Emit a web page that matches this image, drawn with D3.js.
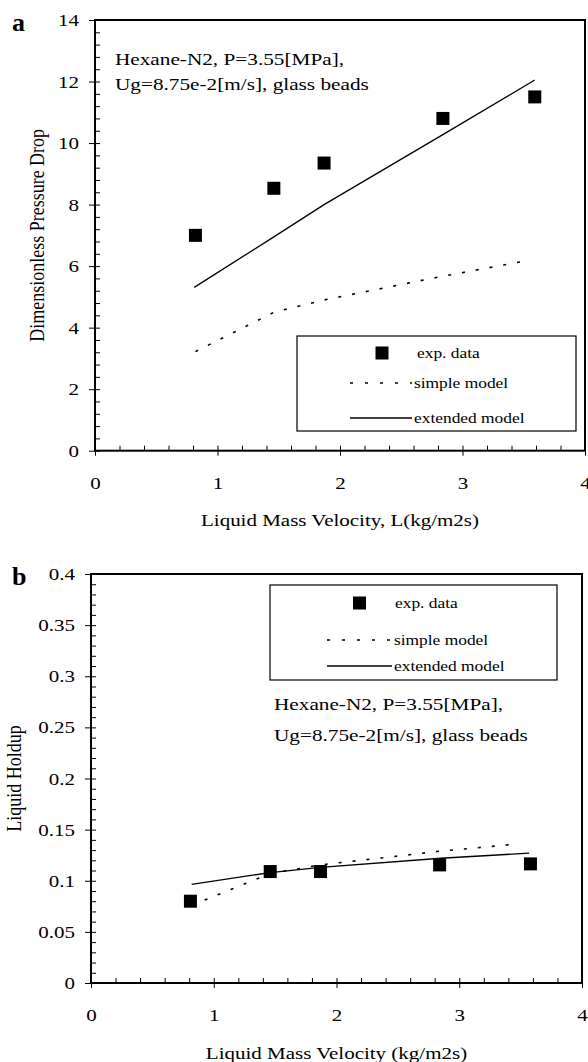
<!DOCTYPE html>
<html>
<head>
<meta charset="utf-8">
<script src="https://cdn.jsdelivr.net/npm/d3@7"></script>
<style>
  body { margin: 0; background: #fff; }
  svg { display: block; }
  svg text { font-family: "Liberation Serif", "Times New Roman", serif; }
</style>
</head>
<body>
<div id="chart"></div>
<script>
// valores
var xTicks = [0, 1, 2, 3, 4];

// panel a: caida de presion adimensional
var dropTicks = [0, 2, 4, 6, 8, 10, 12, 14];
var dropExpX = [0.82, 1.46, 1.87, 2.84, 3.59];
var dropExp = [7.0, 8.53, 9.35, 10.8, 11.5];
var dropSimpleX = [0.82, 1.46, 1.87, 2.85, 3.49];
var dropSimple = [3.22, 4.5, 4.9, 5.68, 6.15];
var dropExtX = [0.81, 1.46, 1.87, 2.85, 3.59];
var dropExt = [5.31, 6.95, 8.0, 10.3, 12.05];

// panel b: holdup liquido
var holdTicks = [0, 0.05, 0.1, 0.15, 0.2, 0.25, 0.3, 0.35, 0.4];
var holdTickLabels = ["0", "0.05", "0.1", "0.15", "0.2", "0.25", "0.3", "0.35", "0.4"];
var holdExpX = [0.81, 1.46, 1.87, 2.84, 3.58];
var holdExp = [0.080, 0.109, 0.109, 0.1155, 0.1165];
var holdSimpleX = [0.82, 1.46, 1.87, 2.85, 3.48];
var holdSimple = [0.076, 0.107, 0.1155, 0.129, 0.136];
var holdExtX = [0.82, 1.46, 1.87, 2.85, 3.57];
var holdExt = [0.0965, 0.108, 0.113, 0.122, 0.127];

var legendLabels = ["exp. data", "simple model", "extended model"];
var noteLines = ["Hexane-N2, P=3.55[MPa],", "Ug=8.75e-2[m/s], glass beads"];

var SX = 1.2; // el escaneo esta estirado en horizontal
var SERIF = "Liberation Serif, Times New Roman, serif";

var svg = d3.select("#chart")
    .append("svg")
    .attr("width", 588)
    .attr("height", 1062);

function stretch(sel, origin) {
    sel.style("transform-box", "fill-box")
        .style("transform-origin", origin + " center")
        .style("transform", "scaleX(" + SX + ")");
}

function pts(xs, ys) {
    return xs.map(function(x, i) { return [x, ys[i]]; });
}

function panel(p) {
    var x = d3.scaleLinear().domain([0, 4]).range([p.left, p.right]);
    var y = d3.scaleLinear().domain([0, p.ymax]).range([p.bottom, p.top]);
    var g = svg.append("g");

    // ticks menores hacia dentro
    g.append("g")
        .attr("transform", "translate(" + p.left + ",0)")
        .call(d3.axisRight(y).tickValues(p.minorY).tickSize(5).tickFormat(""))
        .call(function(a) { a.select(".domain").remove(); });
    g.append("g")
        .attr("transform", "translate(0," + p.bottom + ")")
        .call(d3.axisTop(x).tickValues(d3.range(0, 4.01, 0.2)).tickSize(5).tickFormat(""))
        .call(function(a) { a.select(".domain").remove(); });

    // ticks mayores con etiquetas
    var ya = g.append("g")
        .attr("transform", "translate(" + p.left + ",0)")
        .call(d3.axisLeft(y).tickValues(p.yTicks).tickSize(6).tickPadding(10)
            .tickFormat(function(d, i) { return p.yLabels ? p.yLabels[i] : d; }));
    ya.select(".domain").remove();
    ya.attr("font-family", SERIF);
    ya.selectAll("text").attr("font-family", SERIF).attr("font-size", 17.5).call(stretch, "right");

    var xa = g.append("g")
        .attr("transform", "translate(0," + p.bottom + ")")
        .call(d3.axisBottom(x).tickValues(xTicks).tickSize(5).tickPadding(21)
            .tickFormat(d3.format("d")));
    xa.select(".domain").remove();
    xa.attr("font-family", SERIF);
    xa.selectAll("text").attr("font-family", SERIF).attr("font-size", 17.5).call(stretch, "center");
    g.selectAll(".tick line").attr("stroke", "#000");

    g.append("rect")
        .attr("x", p.left).attr("y", p.top)
        .attr("width", p.right - p.left).attr("height", p.bottom - p.top)
        .attr("fill", "none").attr("stroke", "#000").attr("stroke-width", 2);

    // titulos
    g.append("text")
        .attr("x", (p.left + p.right) / 2).attr("y", p.xTitleY)
        .attr("text-anchor", "middle").attr("font-size", 17.5)
        .text(p.xTitle).call(stretch, "center");
    g.append("text")
        .attr("transform", "translate(" + p.yTitleX + "," + (p.top + p.bottom) / 2 + ") rotate(-90) scale(1," + SX + ")")
        .attr("text-anchor", "middle").attr("font-size", 18)
        .text(p.yTitle);
    g.append("text")
        .attr("x", 12).attr("y", p.letterY)
        .attr("font-size", 26).attr("font-weight", "bold")
        .text(p.letter);

    // anotacion
    g.selectAll(".note").data(noteLines).enter()
        .append("text")
        .attr("x", p.noteX).attr("y", function(d, i) { return p.noteY + i * p.noteGap; })
        .attr("font-size", 17.7)
        .text(function(d) { return d; })
        .call(stretch, "left");

    // curvas de modelo
    var line = d3.line().x(function(d) { return x(d[0]); }).y(function(d) { return y(d[1]); });
    g.append("path").datum(pts(p.simpleX, p.simple))
        .attr("d", line).attr("fill", "none").attr("stroke", "#000")
        .attr("stroke-width", 1.6).attr("stroke-dasharray", "3,11");
    g.append("path").datum(pts(p.extX, p.ext))
        .attr("d", line).attr("fill", "none").attr("stroke", "#000")
        .attr("stroke-width", 1.3);

    // datos experimentales
    g.selectAll(".pt").data(pts(p.expX, p.exp)).enter()
        .append("rect")
        .attr("x", function(d) { return x(d[0]) - 6.5; })
        .attr("y", function(d) { return y(d[1]) - 6.5; })
        .attr("width", 13).attr("height", 13)
        .attr("fill", "#000");

    // leyenda
    var L = p.legend;
    g.append("rect")
        .attr("x", L.x0).attr("y", L.y0)
        .attr("width", L.x1 - L.x0).attr("height", L.y1 - L.y0)
        .attr("fill", "#fff").attr("stroke", "#000").attr("stroke-width", 1.2);
    g.append("rect")
        .attr("x", L.sq - 6.5).attr("y", L.rows[0] - 6.5)
        .attr("width", 13).attr("height", 13).attr("fill", "#000");
    g.append("line")
        .attr("x1", L.l0).attr("x2", L.l1).attr("y1", L.rows[1]).attr("y2", L.rows[1])
        .attr("stroke", "#000").attr("stroke-width", 1.4).attr("stroke-dasharray", "3,12");
    g.append("line")
        .attr("x1", L.l0).attr("x2", L.l1).attr("y1", L.rows[2]).attr("y2", L.rows[2])
        .attr("stroke", "#000").attr("stroke-width", 1.3);
    g.selectAll(".leg").data(legendLabels).enter()
        .append("text")
        .attr("x", function(d, i) { return i == 0 ? L.t0 : L.t1; })
        .attr("y", function(d, i) { return L.rows[i] + 5; })
        .attr("font-size", 14.5)
        .text(function(d) { return d; })
        .call(stretch, "left");
}

panel({
    left: 95, right: 585, top: 20, bottom: 450.7, ymax: 14,
    yTicks: dropTicks, minorY: d3.range(0, 14.01, 0.4),
    xTitle: "Liquid Mass Velocity, L(kg/m2s)", xTitleY: 526,
    yTitle: "Dimensionless Pressure Drop", yTitleX: 44,
    letter: "a", letterY: 31,
    noteX: 115, noteY: 65, noteGap: 25.5,
    expX: dropExpX, exp: dropExp,
    simpleX: dropSimpleX, simple: dropSimple,
    extX: dropExtX, ext: dropExt,
    legend: { x0: 297, x1: 576, y0: 336, y1: 431, sq: 382, l0: 350, l1: 412,
        t0: 417, t1: 414, rows: [353, 383, 418] }
});

panel({
    left: 91, right: 582, top: 574, bottom: 983, ymax: 0.4,
    yTicks: holdTicks, yLabels: holdTickLabels, minorY: d3.range(0, 0.401, 0.01),
    xTitle: "Liquid Mass Velocity (kg/m2s)", xTitleY: 1059,
    yTitle: "Liquid Holdup", yTitleX: 21,
    letter: "b", letterY: 585,
    noteX: 274, noteY: 710, noteGap: 31,
    expX: holdExpX, exp: holdExp,
    simpleX: holdSimpleX, simple: holdSimple,
    extX: holdExtX, ext: holdExt,
    legend: { x0: 270, x1: 557, y0: 585, y1: 680, sq: 359.5, l0: 327, l1: 392,
        t0: 395, t1: 394, rows: [603, 640, 666] }
});
</script>
</body>
</html>
